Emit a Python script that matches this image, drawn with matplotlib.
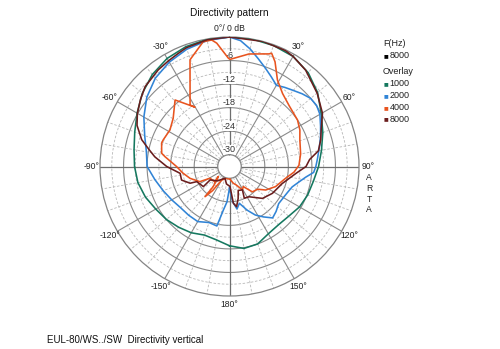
import numpy as np
import matplotlib
matplotlib.use("Agg")
import matplotlib.pyplot as plt

plt.rcParams['font.family'] = ['Liberation Sans', 'DejaVu Sans']

# ---------------- data (angle in degrees clockwise from front, level in dB) -------------
teal_ang = [-180, -170, -160, -150, -140, -130, -120, -110, -100, -90, -80, -70, -60, -50, -40,
            -30, -20, -10, 0, 10, 20, 30, 40, 50, 60, 70, 80, 90, 100, 110, 120, 130, 140, 150,
            160, 170, 180]
teal_db = [-12.8, -14.0, -14.4, -13.5, -12.8, -12.0, -11.3, -10.2, -9.3, -8.8, -8.3, -7.3, -5.8,
           -4.0, -2.4, -1.2, -0.5, -0.1, 0.0, 0.0, -0.2, -0.6, -1.8, -3.7, -6.0, -7.7, -9.2, -10.3,
           -11.3, -11.8, -12.4, -13.3, -13.6, -13.2, -12.0, -11.8, -12.8]

blue_ang = [-180, -176, -172, -168, -160, -150, -140, -130, -120, -110, -100, -90, -80, -70, -60,
            -50, -40, -30, -20, -10, 0, 5, 10, 15, 20, 25, 30, 35, 40, 45, 50, 55, 60, 66, 72, 78,
            85, 90, 94, 98, 103, 108, 114, 119, 127, 134, 140, 146, 152, 158, 165, 170, 175, 180]
blue_db = [-27.5, -24.0, -21.8, -17.5, -17.8, -16.8, -16.8, -16.7, -16.0, -15.0, -13.7, -12.0,
           -11.5, -10.0, -7.8, -5.5, -3.6, -2.3, -1.2, -0.4, 0.0, -0.8, -2.6, -4.6, -6.3, -7.8,
           -9.1, -8.4, -7.7, -6.8, -6.0, -5.9, -6.4, -7.6, -8.6, -9.6, -10.5, -11.0, -11.5, -13.4,
           -15.0, -16.2, -16.8, -17.1, -17.3, -16.5, -15.9, -17.5, -19.0, -21.0, -23.3, -22.0,
           -24.0, -27.5]

orange_ang = [180, -176, -166, -150, -145, -141, -141, -132, -136, -121, -117, -106.7, -98, -90,
              -81.4, -79, -71, -68, -58.5, -49.4, -39.3, -30.2, -32.7, -20.3, -11.9, -8, -5.9,
              -0.6, 0.3, 9.8, 19.3, 20.4, 23.5, 29, 36, 44.5, 55.6, 62.6, 69, 80, 89, 95, 101.9,
              113.6, 123, 129, 138, 145.6, 151, 160, 167, 175, 180]
orange_db = [-30.0, -29.8, -29.9, -29.0, -25.5, -23.1, -26.4, -29.2, -27.6, -27.2, -24.5, -22.5,
             -21.0, -19.5, -16.4, -15.4, -14.7, -14.8, -15.2, -14.1, -11.1, -15.5, -14.4, -4.0,
             -0.5, -0.45, -1.4, -5.4, -5.7, -3.9, -2.6, -2.2, -3.9, -7.8, -10.0, -11.3, -12.0,
             -12.8, -13.8, -14.6, -15.3, -16.5, -18.4, -20.2, -22.0, -23.8, -24.3, -26.8, -26.2,
             -28.0, -28.6, -29.5, -30.0]

red_ang = [0, -10, -20, -24.3, -30, -36.4, -46.6, -53, -60, -66, -73, -78, -82.6, -90, -97.9,
           -105.8, -113, -114.8, -127.6, -124.7, -140, -159, -170, 178.6, 174, 170, 165, 160,
           151, 155, 147, 134, 122, 108, 96, 90, 85, 80, 73.8, 68, 60.2, 50.2, 38.3, 30, 25.7,
           15, 0]
red_db = [0.0, -0.2, -0.8, -1.35, -1.9, -2.4, -3.4, -4.6, -5.9, -7.2, -9.6, -12.0, -13.8, -17.0,
          -20.3, -20.3, -22.1, -23.8, -24.6, -27.0, -28.2, -29.8, -28.5, -27.9, -23.6, -22.6,
          -24.5, -26.5, -26.2, -24.1, -23.8, -21.3, -20.1, -18.9, -16.0, -13.5, -12.5, -10.0,
          -8.8, -7.8, -5.7, -3.9, -1.7, -0.6, -0.2, 0.0, 0.0]

ring_labels = ["-6", "-12", "-18", "-24", "-30"]
ring_values = [-6, -12, -18, -24, -30]
angle_labels = ["0°/ 0 dB", "30°", "60°", "90°", "120°", "150°", "180°", "-150°", "-120°",
                "-90°", "-60°", "-30°"]
angle_values = [0, 30, 60, 90, 120, 150, 180, -150, -120, -90, -60, -30]
legend_main = ["8000"]
legend_overlay = ["1000", "2000", "4000", "8000"]

C_TEAL = "#15785f"
C_BLUE = "#3184d6"
C_ORANGE = "#e8541f"
C_RED = "#6a1d1d"

# ---------------- figure ----------------
W, H = 500, 349
fig = plt.figure(figsize=(5.0, 3.49), dpi=100)
cx, cy, R = 229.5, 166.5, 129.5
ax = fig.add_axes([(cx - R) / W, (H - cy - R) / H, 2 * R / W, 2 * R / H], projection="polar")
ax.set_theta_zero_location("N")
ax.set_theta_direction(-1)
ax.set_rorigin(-33)
ax.set_ylim(-30, 0)
ax.grid(False)
ax.set_xticks([])
ax.set_yticks([])
for s in ax.spines.values():
    s.set_color("#858585")
    s.set_linewidth(0.9)

full = np.linspace(0, 2 * np.pi, 721)
for r in [-6, -12, -18, -24]:
    ax.plot(full, np.full_like(full, r), color="#8a8a8a", lw=0.8, zorder=1)
for r in [-3, -9, -15, -21, -27]:
    ax.plot(full, np.full_like(full, r), color="#b8b8b8", lw=0.6, ls=(0, (3, 2)), zorder=1)
for a in range(0, 360, 10):
    t = np.deg2rad(a)
    if a % 90 == 0:
        ax.plot([t, t], [-30, 0], color="#6e6e6e", lw=0.9, zorder=1.2)
    elif a % 30 == 0:
        ax.plot([t, t], [-30, 0], color="#8a8a8a", lw=0.8, zorder=1.1)
    else:
        ax.plot([t, t], [-30, 0], color="#b8b8b8", lw=0.6, ls=(0, (3, 2)), zorder=1)

for lab, v in zip(ring_labels, ring_values):
    ax.text(0, v + 0.15, lab, ha="center", va="bottom", fontsize=6.5, color="#333333",
            bbox=dict(facecolor="white", edgecolor="none", pad=0.3), zorder=2)

for lab, v in zip(angle_labels, angle_values):
    ax.text(np.deg2rad(v), 2.2, lab, ha="center", va="center", fontsize=6.2,
            color="#222222", clip_on=False)

LW = 1.15
ax.plot(np.deg2rad(teal_ang), teal_db, color=C_TEAL, lw=LW, zorder=3)
ax.plot(np.deg2rad(blue_ang), blue_db, color=C_BLUE, lw=LW, zorder=3)
ax.plot(np.deg2rad(orange_ang), orange_db, color=C_ORANGE, lw=LW, zorder=4)
ax.plot(np.deg2rad(red_ang), red_db, color=C_RED, lw=LW, zorder=5)

# ---------------- texts ----------------
def ftext(x, y, s, **kw):
    fig.text(x / W, 1 - y / H, s, **kw)

ftext(229, 13, "Directivity pattern", ha="center", va="center", fontsize=7.3, color="#111111")
ftext(383, 44, "F(Hz)", ha="left", va="center", fontsize=6.5, color="#222222")
ftext(384, 56, "■", ha="left", va="center", fontsize=3.6, color="black",
      family="DejaVu Sans")
ftext(389.5, 56, legend_main[0], ha="left", va="center", fontsize=6.5, color="#222222")
ftext(383, 72, "Overlay", ha="left", va="center", fontsize=6.5, color="#222222")
for i, (lab, c) in enumerate(zip(legend_overlay, [C_TEAL, C_BLUE, C_ORANGE, C_RED])):
    y = 84 + i * 11.7
    ftext(384, y, "■", ha="left", va="center", fontsize=3.6, color=c, family="DejaVu Sans")
    ftext(389.5, y, lab, ha="left", va="center", fontsize=6.5, color="#222222")

for i, ch in enumerate("ARTA"):
    ftext(369, 178 + i * 10.5, ch, ha="center", va="center", fontsize=6.2, color="#222222")

ftext(47, 340, "EUL-80/WS../SW  Directivity vertical", ha="left", va="center", fontsize=7,
      color="#111111")

fig.savefig("out.png", dpi=100, facecolor="white")
